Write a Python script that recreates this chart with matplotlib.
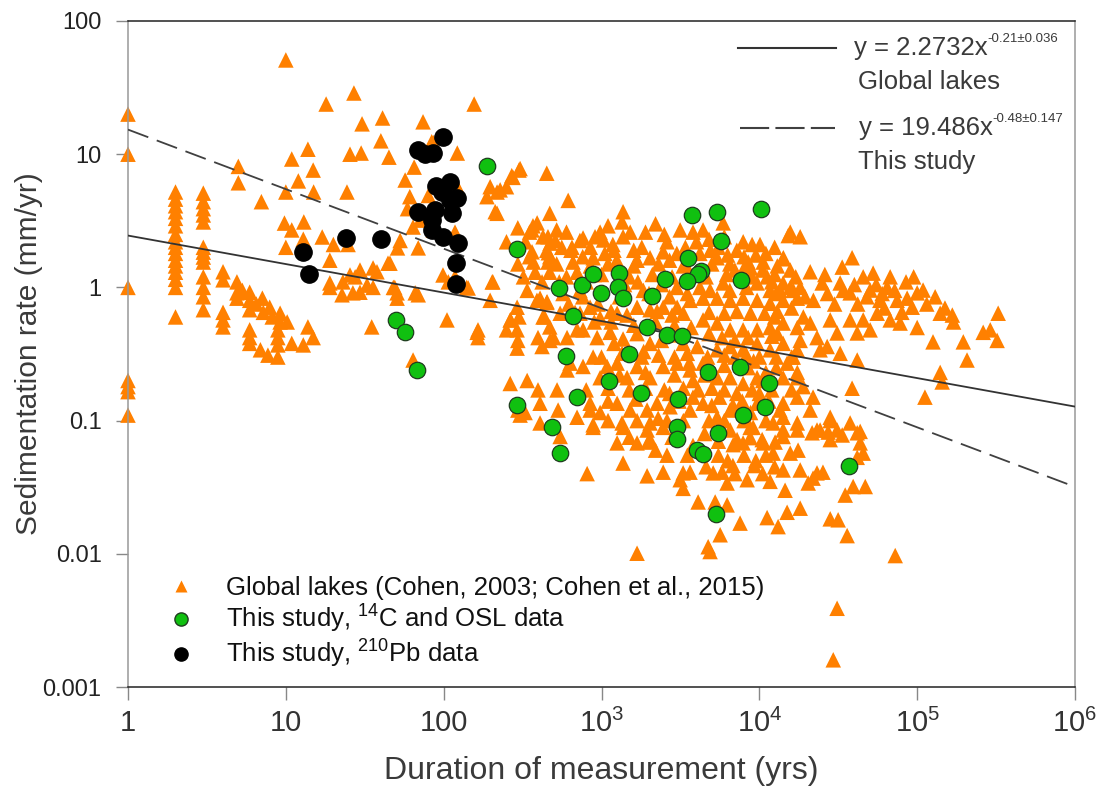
import matplotlib
matplotlib.use("Agg")
import matplotlib.pyplot as plt
import numpy as np
from matplotlib.lines import Line2D
from matplotlib.ticker import FixedLocator, NullLocator

plt.rcParams['font.family'] = ['Liberation Sans', 'DejaVu Sans']
plt.rcParams['mathtext.fontset'] = 'custom'
plt.rcParams['mathtext.rm'] = 'Liberation Sans'
plt.rcParams['mathtext.it'] = 'Liberation Sans:italic'

# ---------------- data ----------------
# Global lakes (Cohen 2003; Cohen et al. 2015): duration (yr), rate (mm/yr)
lakes_short = [
    (1, 20), (1, 10), (1, 1.0), (1, 0.2), (1, 0.18), (1, 0.165), (1, 0.11),
    (2, 5.2), (2, 4.6), (2, 4.1), (2, 3.7), (2, 3.3), (2, 2.9), (2, 2.5), (2, 2.2), (2, 2.0),
    (2, 1.8), (2, 1.6), (2, 1.45), (2, 1.3), (2, 1.15), (2, 1.0), (2, 0.6),
    (3, 5.1), (3, 4.4), (3, 3.9), (3, 3.5), (3, 3.1), (3, 2.0), (3, 1.84), (3, 1.69), (3, 1.55),
    (3, 1.2), (3, 1.0), (3, 0.85), (3, 0.68),
    (4.0, 1.31), (4.0, 1.14), (4.9, 1.10), (4.9, 0.91), (4.9, 0.83), (5.9, 0.92), (5.9, 0.80),
    (5.9, 0.68), (7.1, 0.83), (7.2, 0.65), (7.9, 0.71), (8.2, 0.60), (9.2, 0.64), (9.2, 0.55),
    (10.2, 0.55), (8.9, 0.48), (8.9, 0.42), (8.9, 0.37), (5.9, 0.48), (5.9, 0.42), (5.9, 0.38),
    (6.9, 0.34), (7.7, 0.31), (8.9, 0.30), (10.9, 0.38), (12.9, 0.37), (14.9, 0.42), (13.8, 0.505),
    (4.0, 0.65), (4.0, 0.57), (4.0, 0.505), (6.5, 0.75), (5.3, 0.95),
]
lakes_decadal = [
    (19, 1.08), (23, 1.10), (22.7, 0.88), (29.5, 0.92), (35.7, 1.0), (37.8, 1.31), (44.4, 1.52),
    (49, 1.0), (50.7, 0.83), (69, 0.88), (35, 0.505), (64, 0.285), (99, 1.24), (105, 0.57),
    (143, 0.99), (165, 0.48), (165, 0.42), (203, 1.10), (197, 0.80), (29.5, 1.35), (25.5, 1.24),
    (26.6, 0.91), (32.7, 1.04), (50.7, 0.91), (19, 1.6),
    (10, 51), (27, 28.8), (18, 23.8), (156, 23.8), (30.4, 16.9), (41, 18.7), (74, 17.5), (40, 12.6),
    (13.8, 10.9), (25.5, 10), (30, 10.2), (45, 9.5), (86, 12.2), (122, 10.2), (10.9, 9.2), (5, 8.1),
    (5, 6.1), (14.9, 7.6), (12, 6.3), (65, 8.0), (57, 6.4), (24.4, 5.2), (15, 5.2), (10, 5.2),
    (7, 4.4), (61, 4.8), (9.8, 3.04), (10.9, 2.7), (13, 3.1), (17, 2.39), (20, 2.1), (10, 2.0),
    (12.9, 2.3), (24.8, 2.1), (35.7, 1.4), (45.7, 1.52), (51, 1.98), (64, 2.84), (71, 3.2),
    (69, 1.98), (140, 1.0), (19, 1.0), (27.5, 1.2), (48, 1.0), (66, 0.91), (118, 2.6), (118, 1.2),
    (59, 3.9), (86, 2.7), (84, 12.4), (80, 4.9), (122, 5.7), (53, 2.25), (107, 1.1),
]
lakes_century = [
    (197, 5.7), (218, 5.2), (212, 3.7), (188, 4.8), (228, 5.4), (250, 5.7), (275, 6.7), (300, 7.6),
    (450, 7.2), (615, 4.5), (218, 3.6), (250, 2.2), (295, 2.8), (368, 2.9), (470, 3.6), (350, 2.6),
    (520, 2.7), (458, 2.4), (510, 2.25), (350, 1.7), (450, 1.9), (470, 1.7), (458, 1.55), (380, 1.3),
    (470, 1.3), (295, 1.5), (390, 0.8), (450, 0.77), (300, 0.6), (265, 0.57), (435, 0.6), (250, 0.48),
    (470, 0.505), (163, 0.46), (295, 0.4), (497, 0.42), (420, 0.36), (700, 0.48), (730, 2.25),
    (850, 2.0), (760, 1.7), (850, 1.45), (910, 2.4),
    (305, 7.8), (270, 6.9), (391, 3.05), (363, 2.7), (426, 2.4), (472, 2.15), (460, 1.82), (363, 1.85),
    (370, 1.55), (205, 1.1), (764, 2.35), (980, 2.6), (1030, 2.27), (885, 1.67), (660, 1.55),
    (730, 0.95), (570, 0.9), (408, 0.83), (452, 0.78), (338, 0.95), (292, 0.71), (264, 0.57),
    (426, 0.6), (547, 0.64), (731, 0.64), (847, 0.71), (980, 0.59), (292, 0.48), (396, 0.42),
    (472, 0.40), (605, 0.42), (764, 0.48), (938, 0.42), (292, 0.35), (264, 0.19), (338, 0.20),
    (396, 0.17), (295, 0.12), (328, 0.115), (408, 0.135), (523, 0.17), (605, 0.24), (632, 0.27),
    (764, 0.255), (885, 0.30), (980, 0.21), (847, 0.135), (980, 0.115), (885, 0.089), (700, 0.106),
    (547, 0.076), (408, 0.096), (305, 0.11), (531, 0.12), (847, 0.12), (885, 0.093), (811, 0.040),
    (600, 1.2), (650, 2.0), (700, 1.3), (800, 1.1), (900, 0.55), (620, 0.75), (680, 0.65),
    (760, 0.85), (900, 1.25), (950, 0.75), (320, 1.2), (420, 1.1), (520, 1.5), (560, 2.0),
    (600, 2.6), (640, 1.9), (540, 1.1), (330, 2.2),
]
lakes_millennial = [
    (1370, 3.7), (1350, 3.1), (1520, 2.6), (1370, 2.4), (1180, 2.1), (1680, 1.6), (2030, 1.67),
    (2460, 1.85), (3150, 2.7), (3800, 2.6), (4400, 2.7), (5900, 3.05), (4900, 1.9), (5400, 1.67),
    (7200, 1.9), (7900, 2.2), (9000, 2.1), (10100, 2.1), (14200, 1.67), (15700, 2.6), (11200, 1.2),
    (16400, 0.95), (1840, 0.95),
    (1256, 0.64), (1680, 0.71), (2030, 0.68), (2460, 0.71), (3015, 0.71), (3640, 0.80), (4400, 0.83),
    (5400, 0.83), (6530, 0.80), (7890, 0.83), (9680, 0.80), (11700, 0.76), (14150, 0.80),
    (17400, 0.83), (5900, 1.08), (4875, 0.95), (9680, 1.08), (11700, 0.95), (14150, 1.08),
    (7890, 1.35), (10570, 1.55), (15700, 1.35),
    (1133, 0.46), (1370, 0.41), (1680, 0.45), (2030, 0.38), (3290, 0.38), (4040, 0.36), (5400, 0.34),
    (6530, 0.36), (7890, 0.34), (9680, 0.38), (11700, 0.34), (14150, 0.38), (17400, 0.34),
    (6530, 0.48), (7890, 0.48), (9680, 0.48), (11700, 0.50), (14150, 0.54), (17400, 0.50),
    (5400, 0.54), (4400, 0.57),
    (1085, 0.255), (1256, 0.27), (1452, 0.21), (1680, 0.255), (2030, 0.21), (2460, 0.255),
    (3015, 0.27), (3640, 0.24), (4400, 0.27), (5400, 0.21), (6530, 0.21), (7890, 0.19), (9680, 0.21),
    (14150, 0.21), (17400, 0.21),
    (1256, 0.135), (1518, 0.12), (1945, 0.12), (2250, 0.135), (2720, 0.127), (3640, 0.12),
    (4400, 0.135), (5400, 0.106), (6530, 0.12), (9680, 0.135), (14150, 0.135), (17400, 0.15),
    (1945, 0.085), (2460, 0.089), (1370, 0.089), (2030, 0.072), (1680, 0.068), (6530, 0.085),
    (8750, 0.089), (12230, 0.096), (14150, 0.076), (17400, 0.096), (7230, 0.072), (10570, 0.068),
    (1256, 0.068), (1350, 0.096), (1680, 0.10), (2030, 0.096), (2285, 0.104), (1370, 0.048),
    (1945, 0.0385), (1974, 0.069), (3290, 0.0405), (3640, 0.041), (3290, 0.031), (4095, 0.0245),
    (5100, 0.0405), (5810, 0.041), (6250, 0.034), (5250, 0.0245), (6250, 0.0233), (5645, 0.0139),
    (4740, 0.0113), (4875, 0.0104), (7550, 0.017), (8370, 0.036), (11700, 0.035), (14560, 0.030),
    (11200, 0.0187), (13150, 0.016), (15000, 0.0205), (18150, 0.022), (18150, 0.0426),
    (14150, 0.0426), (15700, 0.057), (17600, 0.060), (12230, 0.057), (10420, 0.072), (12590, 0.069),
    (14150, 0.085), (17400, 0.085), (7890, 0.068), (6830, 0.066), (8750, 0.0745), (1680, 0.0101),
    (2460, 0.041), (3150, 0.036), (9140, 0.089),
    (1100, 1.5), (1600, 1.45), (2300, 1.5), (3300, 1.45), (5000, 1.5), (6500, 1.5), (8500, 1.55),
    (13000, 1.45), (1000, 1.25), (1500, 1.2), (2100, 1.25), (2800, 1.2), (4600, 1.2), (6200, 1.25),
    (9000, 1.2), (12500, 1.25), (17000, 1.2),
    (1150, 0.66), (1450, 0.62), (2250, 0.66), (2800, 0.62), (3300, 0.64), (4800, 0.65), (6000, 0.64),
    (7200, 0.66), (8800, 0.64), (10800, 0.64), (13000, 0.66),
    (1000, 0.3), (1350, 0.32), (1800, 0.3), (2300, 0.31), (2900, 0.3), (3500, 0.32), (4700, 0.3),
    (6000, 0.31), (7000, 0.3), (8300, 0.31), (10000, 0.3), (12800, 0.3), (16000, 0.3),
    (800, 0.17), (1100, 0.175), (1500, 0.17), (1900, 0.175), (2500, 0.17), (3300, 0.175),
    (4100, 0.17), (5000, 0.175), (6000, 0.17), (7200, 0.16), (9000, 0.17), (12000, 0.17),
    (16000, 0.17), (1100, 0.1), (2600, 0.1), (3300, 0.1), (4800, 0.1), (6000, 0.1), (8000, 0.1),
    (11000, 0.1), (2600, 0.055), (3500, 0.055), (5500, 0.055), (8000, 0.055), (11000, 0.055),
    (9300, 0.046), (6800, 0.046), (4600, 0.045),
    (1200, 1.9), (1800, 2.0), (2600, 2.2), (3400, 2.0), (4200, 1.8), (6000, 2.4), (1050, 1.8),
    (1300, 0.85), (2000, 0.9), (2700, 0.85), (3500, 0.9), (4200, 1.0), (6500, 0.95), (8300, 1.0),
    (12800, 0.9), (1150, 0.55), (1600, 0.52), (2200, 0.55), (2900, 0.52), (3700, 0.5), (4800, 0.45),
    (8500, 0.42), (13000, 0.45), (1300, 0.22), (1900, 0.23), (2900, 0.22), (3800, 0.2), (5000, 0.24),
    (6000, 0.26), (8500, 0.25), (11000, 0.23), (12800, 0.25), (1100, 0.14), (1650, 0.145),
    (3100, 0.14), (5000, 0.13), (7800, 0.14), (11500, 0.14), (13500, 0.12),
    (1100, 2.9), (1250, 1.6), (1600, 1.9), (1900, 2.6), (2200, 3.0), (2500, 2.5), (2700, 1.6),
    (3000, 1.8), (1400, 1.05), (2400, 1.05), (3000, 1.0), (1700, 1.1),
    (3400, 1.5), (4000, 2.2), (4800, 2.3), (5500, 2.0), (6300, 1.75), (7000, 1.35), (8000, 1.7),
    (8800, 1.4), (9500, 1.75), (11000, 1.8), (12500, 2.0),
    (10500, 1.35), (12000, 1.1), (13500, 0.95), (16000, 0.7), (19000, 0.6), (19500, 0.85),
    (12500, 0.6),
    (1500, 0.075), (2200, 0.06), (2800, 0.075), (3800, 0.065), (4500, 0.08), (5500, 0.07),
    (6300, 0.05), (7000, 0.04), (9500, 0.05), (10500, 0.04), (12500, 0.045),
    (1200, 0.38), (1850, 0.33), (2400, 0.4), (3000, 0.44), (3600, 0.27), (4500, 0.22), (5800, 0.42),
    (7000, 0.4), (8000, 0.27), (9200, 0.28), (10500, 0.2), (12000, 0.43), (2700, 0.16), (3800, 0.15),
    (5600, 0.15), (6800, 0.13), (8800, 0.115), (10000, 0.16),
]
lakes_long = [
    (15240, 2.45), (18150, 2.4), (14150, 1.64), (38700, 1.67), (33500, 1.42), (21000, 1.31),
    (45500, 1.2), (52600, 1.28), (67450, 1.2), (32510, 1.08), (25000, 1.08), (15700, 1.0),
    (18150, 1.0), (37600, 0.91), (50350, 0.955), (64500, 1.0), (74700, 0.80), (86400, 0.83),
    (100000, 0.91), (109000, 0.955), (93000, 0.71), (100000, 0.50), (139900, 0.64), (167000, 0.62),
    (326000, 0.64), (262000, 0.46), (321000, 0.40), (290400, 0.48), (196000, 0.39), (207000, 0.285),
    (126000, 0.39), (139900, 0.23), (144000, 0.195), (38700, 0.175), (112000, 0.15), (41700, 0.285),
    (32510, 0.32), (24270, 0.34), (18150, 0.40), (21000, 0.54), (28120, 0.57), (37600, 0.57),
    (45500, 0.57), (55800, 0.64), (67450, 0.57), (77980, 0.54), (50350, 0.48), (41700, 0.455),
    (31100, 0.455), (23200, 0.42), (26900, 0.36), (16400, 0.30), (15000, 0.27), (17400, 0.23),
    (18950, 0.18), (21900, 0.15), (21000, 0.12), (14150, 0.106), (28120, 0.106), (24270, 0.085),
    (31100, 0.085), (43550, 0.083), (28120, 0.072),
    (28120, 0.0183), (31570, 0.018), (36000, 0.0137), (35000, 0.0276), (39300, 0.032),
    (46900, 0.032), (21900, 0.037), (20400, 0.034), (25300, 0.041), (23200, 0.0405), (21600, 0.081),
    (23200, 0.085), (27300, 0.082), (33500, 0.078), (41700, 0.081), (37600, 0.096), (28120, 0.10),
    (43550, 0.068), (45500, 0.057), (41700, 0.053),
    (31100, 0.0039), (29400, 0.0016), (72600, 0.0097),
    (22000, 0.8), (27000, 0.9), (30000, 0.75), (42000, 0.75), (48000, 0.85), (58000, 0.8),
    (62000, 0.7), (72000, 0.95), (80000, 0.65),
    (26000, 1.25), (34000, 0.95), (40000, 1.05), (55000, 1.05), (60000, 0.9), (85000, 1.1),
    (95000, 1.2), (115000, 0.75), (130000, 0.85), (150000, 0.7), (170000, 0.55),
]
lakes = lakes_short + lakes_decadal + lakes_century + lakes_millennial + lakes_long
lake_dur = [p[0] for p in lakes]
lake_rate = [p[1] for p in lakes]

# This study, 14C and OSL
c14_dur = [188, 292, 50, 57, 68, 539, 661, 597, 753, 885, 995, 1290, 1275, 1370, 2090, 2530,
           1945, 2610, 3240, 1500, 1117, 700, 1780, 3060, 292, 486, 547, 3010, 3010, 4030, 4400,
           5480, 5330, 4740, 7550, 7890, 10900, 11500, 3750, 5400, 10300, 5730, 3540, 4290, 4090,
           3490, 7670, 37100]
c14_rate = [8.15, 1.94, 0.57, 0.46, 0.24, 0.99, 0.61, 0.305, 1.04, 1.26, 0.91, 1.28, 1.0, 0.83,
            0.86, 1.16, 0.50, 0.44, 0.43, 0.316, 0.20, 0.150, 0.161, 0.145, 0.131, 0.0895, 0.057,
            0.0895, 0.073, 0.060, 0.056, 0.081, 0.020, 0.232, 0.252, 0.110, 0.126, 0.191, 3.5, 3.68,
            3.88, 2.23, 1.66, 1.33, 1.26, 1.12, 1.14, 0.0456]

# This study, 210Pb
pb_dur = [12.9, 14, 24, 40, 69, 69, 76, 86, 99, 89, 110, 98, 122, 110, 88, 113, 84, 84, 99, 123,
          120, 120]
pb_rate = [1.84, 1.26, 2.35, 2.31, 3.68, 10.8, 10.1, 10.2, 13.5, 5.8, 6.2, 5.2, 4.7, 4.5, 3.8,
           3.6, 3.2, 2.7, 2.4, 2.15, 1.52, 1.06]

# Power-law fits y = a * x^b (as drawn)
fit_global = (2.45, -0.214)
fit_study = (15.3, -0.447)

xticks = [1, 10, 100, 1e3, 1e4, 1e5, 1e6]
xticklabels = ['1', '10', '100', r'$\mathregular{10^3}$', r'$\mathregular{10^4}$',
               r'$\mathregular{10^5}$', r'$\mathregular{10^6}$']
yticks = [0.001, 0.01, 0.1, 1, 10, 100]
yticklabels = ['0.001', '0.01', '0.1', '1', '10', '100']

ORANGE = '#FF8000'
GREEN = '#10C010'
TXT = '#3a3a3a'

# ---------------- figure ----------------
fig = plt.figure(figsize=(10.98, 7.94), dpi=100)
ax = fig.add_axes([128 / 1098, (794 - 687) / 794, (1075 - 128) / 1098, (687 - 21) / 794])
ax.set_xscale('log')
ax.set_yscale('log')
ax.set_xlim(1, 1e6)
ax.set_ylim(1e-3, 100)

ax.scatter(lake_dur, lake_rate, marker='^', s=125, color=ORANGE, edgecolors='none',
           zorder=2, clip_on=False)

xx = np.logspace(0, 6, 200)
ax.plot(xx, fit_global[0] * xx ** fit_global[1], color='#333333', lw=1.3, zorder=3)
ax.plot(xx, fit_study[0] * xx ** fit_study[1], color='#404040', lw=1.3,
        linestyle=(0, (12, 5)), zorder=3)

ax.scatter(c14_dur, c14_rate, marker='o', s=140, color=GREEN, edgecolors='#1f3d1f',
           linewidths=0.9, zorder=4)
ax.scatter(pb_dur, pb_rate, marker='o', s=155, color='black', edgecolors='black', zorder=5)

# axes styling
for side in ['top', 'bottom']:
    ax.spines[side].set_color('#222222')
    ax.spines[side].set_linewidth(1.1)
for side in ['left', 'right']:
    ax.spines[side].set_color('#999999')
    ax.spines[side].set_linewidth(1.1)

ax.xaxis.set_major_locator(FixedLocator(xticks))
ax.yaxis.set_major_locator(FixedLocator(yticks))
ax.xaxis.set_minor_locator(NullLocator())
ax.yaxis.set_minor_locator(NullLocator())
ax.set_xticklabels(xticklabels)
ax.set_yticklabels(yticklabels)
ax.tick_params(axis='x', direction='out', length=9, width=1, color='#888888', pad=7,
               labelsize=21, labelcolor='#333333')
ax.tick_params(axis='y', direction='out', length=9, width=1, color='#888888', pad=10,
               labelsize=17, labelcolor='#222222')

ax.set_xlabel('Duration of measurement (yrs)', fontsize=23, color=TXT, labelpad=13)
ax.set_ylabel('Sedimentation rate (mm/yr)', fontsize=21.5, color=TXT, labelpad=0)

# regression key (upper right)
ax.add_line(Line2D([0.644, 0.748], [0.9595, 0.9595], transform=ax.transAxes,
                   color='#333333', lw=1.5))
t1 = ax.text(0.7666, 0.9595, 'y = 2.2732x', transform=ax.transAxes,
             fontsize=18.5, color=TXT, va='center', ha='left')
ax.annotate('-0.21\u00b10.036', xy=(1.0, 0.62), xycoords=t1, fontsize=9.5, color=TXT,
            va='bottom', ha='left')
ax.text(0.7709, 0.9084, 'Global lakes', transform=ax.transAxes, fontsize=18.5, color=TXT,
        va='center', ha='left')
ax.add_line(Line2D([0.6463, 0.7466], [0.8393, 0.8393], transform=ax.transAxes,
                   color='#404040', lw=1.5, linestyle=(0, (14, 3))))
t2 = ax.text(0.7719, 0.8393, 'y = 19.486x', transform=ax.transAxes,
             fontsize=18.5, color=TXT, va='center', ha='left')
ax.annotate('-0.48\u00b10.147', xy=(1.0, 0.62), xycoords=t2, fontsize=9.5, color=TXT,
            va='bottom', ha='left')
ax.text(0.7709, 0.7883, 'This study', transform=ax.transAxes, fontsize=18.5, color=TXT,
        va='center', ha='left')

# symbol legend (lower left)
handles = [
    Line2D([], [], marker='^', linestyle='none', color=ORANGE, markeredgecolor='none', markersize=9),
    Line2D([], [], marker='o', linestyle='none', markerfacecolor=GREEN, markeredgecolor='#1f3d1f',
           markersize=9.5),
    Line2D([], [], marker='o', linestyle='none', markerfacecolor='black', markeredgecolor='black',
           markersize=9.5),
]
labels = ['Global lakes (Cohen, 2003; Cohen et al., 2015)',
          r'This study, $\mathregular{^{14}}$C and OSL data',
          r'This study, $\mathregular{^{210}}$Pb data']
leg = ax.legend(handles, labels, loc='upper left', bbox_to_anchor=(0.042, 0.166),
                frameon=False, fontsize=18.5, handlelength=1.0, handletextpad=1.25,
                borderpad=0, borderaxespad=0, labelspacing=0.1)
for t in leg.get_texts():
    t.set_color('#111111')

fig.savefig('out.png', dpi=100)
